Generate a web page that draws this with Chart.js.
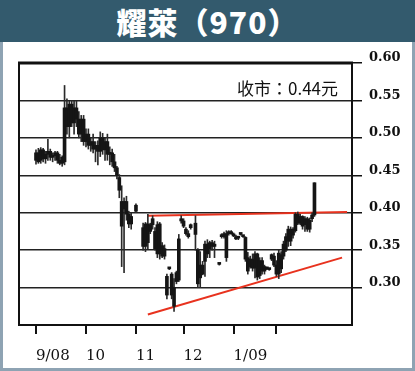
<!DOCTYPE html>
<html><head><meta charset="utf-8">
<script src="https://cdn.jsdelivr.net/npm/chart.js@4"></script>
<style>
html,body{margin:0;padding:0;}
body{width:415px;height:371px;background:#8ea3b3;position:relative;overflow:hidden;}
#hdr{position:absolute;left:0;top:0;width:415px;height:42px;background:#335a6d;color:#fff;font-family:"Noto Sans CJK TC";font-weight:900;font-size:30px;text-align:center;line-height:42px;letter-spacing:1px;}
#panel{position:absolute;left:3px;top:42px;width:409px;height:326px;background:#fff;}
#note{position:absolute;left:234px;top:37px;font-family:"Noto Sans CJK TC";font-size:17px;line-height:17px;color:#111;white-space:nowrap;}
canvas{position:absolute;left:0;top:0;}
</style></head>
<body>
<div id="hdr">耀萊（970）</div>
<div id="panel"><canvas id="c" width="409" height="326"></canvas><div id="note">收市：0.44元</div></div>
<script>
// trading-day index 0 = first session of Sep 2008
const monthTickDays = [0, 21, 42, 62, 83, 101];
const monthLabels = ['9/08', '10', '11', '12', '1/09', ''];
const opens  = [.470,.480,.470,.484,.472,.478,.482,.474,.476,.480,.470,.466,.468,.540,.515,.545,.520,.540,.525,.505,.525,.495,.505,.490,.495,.485,.490,.482,.500,.484,.495,.478,.480,.468,.460,.447,.415,.405,.415,.398,.385,null,.402,null,null,.380,.355,.385,.375,.384,.375,.384,.345,.356,.342,.315,.325,.318,.300,.320,.310,.392,.389,.378,.372,.380,null,.386,.350,.330,.318,.335,.358,.352,.360,.355,null,.331,.370,.368,.372,.372,.374,.371,.368,.366,.371,.368,.367,.340,.328,.338,.326,.345,.316,.336,.322,.325,.324,.344,.342,.330,.318,.325,.342,.350,.362,.362,.378,.376,.398,.386,.395,.384,.392,.378,.392,.397];
const highs  = [.484,.486,.487,.486,.482,.498,.485,.480,.482,.482,.478,.476,.570,.552,.549,.550,.549,.549,.535,.530,.530,.512,.512,.500,.505,.495,.496,.508,.506,.500,.505,.488,.485,.478,.462,.451,.436,.420,.422,.402,.400,null,.412,null,null,.386,.387,.398,.386,.396,.380,.388,.387,.360,.357,.318,.326,.320,.312,.322,.371,.396,.392,.380,.376,.385,null,.396,.352,.348,.335,.362,.364,.362,.363,.362,null,.332,.372,.374,.376,.376,.376,.373,.370,.368,.372,.369,.368,.347,.342,.345,.348,.346,.340,.340,.330,.326,.325,.345,.346,.336,.350,.348,.362,.372,.382,.381,.380,.400,.401,.398,.396,.395,.394,.393,.400,.440];
const lows   = [.465,.466,.466,.468,.466,.470,.470,.468,.470,.466,.464,.462,.464,.505,.500,.515,.505,.515,.500,.495,.490,.488,.485,.482,.480,.468,.464,.475,.478,.470,.470,.464,.462,.455,.445,.420,.328,.320,.390,.380,.378,null,.400,null,null,.350,.348,.352,.372,.378,.350,.340,.338,.340,.338,.285,.324,.285,.268,.305,.308,.386,.380,.370,.366,.378,null,.350,.300,.300,.317,.315,.340,.340,.350,.340,null,.330,.366,.366,.335,.370,.371,.368,.364,.364,.370,.367,.335,.318,.326,.322,.313,.310,.312,.318,.318,.324,.323,.336,.328,.315,.312,.320,.338,.348,.355,.356,.366,.374,.384,.384,.378,.375,.375,.374,.388,.395];
const closes = [.480,.468,.484,.472,.478,.482,.474,.476,.480,.470,.466,.474,.540,.515,.545,.520,.540,.525,.505,.525,.495,.505,.490,.495,.485,.490,.482,.500,.484,.495,.478,.480,.468,.460,.450,.430,.382,.415,.398,.385,.395,null,.410,null,null,.355,.385,.360,.384,.392,.352,.345,.385,.342,.352,.290,.325,.290,.275,.308,.365,.389,.382,.372,.368,.384,null,.371,.305,.313,.330,.358,.345,.360,.355,.358,null,.331,.368,.372,.340,.374,.372,.369,.365,.367,.371,.368,.338,.322,.338,.326,.345,.314,.336,.322,.328,.325,.324,.338,.330,.318,.346,.344,.358,.368,.378,.378,.370,.398,.386,.395,.382,.392,.378,.390,.397,.440];
// trend lines [day index, price]
const resistanceLine = [[47, 0.396], [130.7, 0.401]];
const supportLine = [[47, 0.264], [128.6, 0.340]];

const wickData = [], bodyData = [];
opens.forEach((o, i) => {
  if (o === null) return;
  wickData.push({x: i, y: [lows[i], highs[i]]});
  bodyData.push({x: i, y: [Math.min(o, closes[i]), Math.max(o, closes[i])]});
});

const framePlugin = {
  id: 'frame',
  afterDraw(chart) {
    const {ctx, chartArea: a} = chart;
    ctx.save();
    ctx.strokeStyle = '#111';
    ctx.lineWidth = 2;
    ctx.strokeRect(a.left, a.top, a.right - a.left, a.bottom - a.top);
    ctx.lineWidth = 3;
    ctx.beginPath(); ctx.moveTo(a.left - 1, a.top); ctx.lineTo(a.right + 1, a.top); ctx.stroke();
    ctx.restore();
  }
};

new Chart(document.getElementById('c'), {
  type: 'bar',
  data: {
    datasets: [
      {type: 'line', data: resistanceLine.map(p => ({x: p[0], y: p[1]})), borderColor: '#e8321e', borderWidth: 2, pointRadius: 0, order: 3},
      {type: 'line', data: supportLine.map(p => ({x: p[0], y: p[1]})), borderColor: '#e8321e', borderWidth: 2, pointRadius: 0, order: 3},
      {data: wickData, backgroundColor: '#2a2a2a', barThickness: 1, grouped: false, minBarLength: 1, order: 2},
      {data: bodyData, backgroundColor: '#151515', barThickness: 3, grouped: false, minBarLength: 2, order: 1}
    ]
  },
  options: {
    responsive: false,
    animation: false,
    devicePixelRatio: 1,
    layout: {padding: {left: 16, top: 21, right: 0, bottom: 0}},
    plugins: {legend: {display: false}, tooltip: {enabled: false}},
    scales: {
      x: {
        type: 'linear', min: -7.14, max: 132.77, offset: false,
        afterBuildTicks: s => { s.ticks = monthTickDays.map(v => ({value: v})); },
        afterFit: s => { s.height = 43; },
        grid: {drawOnChartArea: false, offset: false, drawTicks: true, tickLength: 9, color: '#111', lineWidth: 2},
        border: {display: true, color: '#111', width: 2},
        ticks: {align: 'start', padding: 13, color: '#111', autoSkip: false, maxRotation: 0,
          font: {family: 'DejaVu Serif', size: 15},
          callback: (v, i) => monthLabels[i]}
      },
      y: {
        position: 'right', min: 0.25, max: 0.60,
        afterFit: s => { s.width = 60; },
        ticks: {stepSize: 0.05, padding: 7, labelOffset: -5, color: '#111',
          font: {family: 'DejaVu Serif', size: 13, weight: 'bold'},
          callback: v => v < 0.26 ? '' : v.toFixed(2)},
        grid: {color: '#222', lineWidth: 1.5, tickLength: 10,
          tickColor: ctx => (ctx.tick && ctx.tick.value < 0.26) ? 'rgba(0,0,0,0)' : '#111'},
        border: {display: true, color: '#111', width: 2}
      }
    }
  },
  plugins: [framePlugin]
});
</script>
</body></html>
